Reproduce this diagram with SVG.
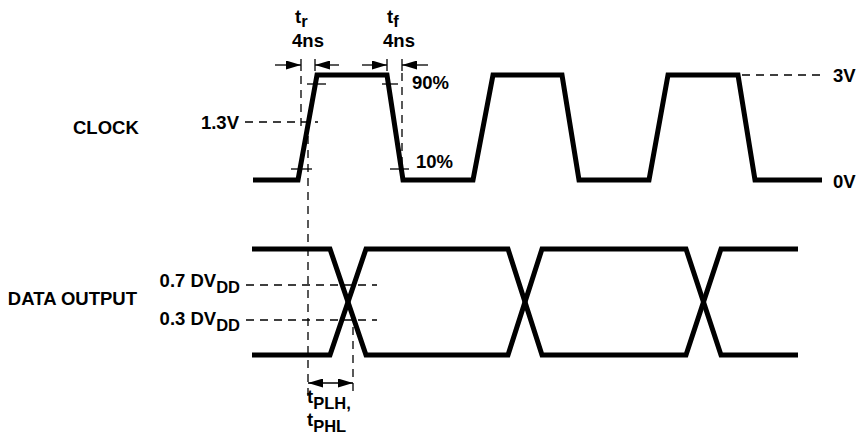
<svg xmlns="http://www.w3.org/2000/svg" width="859" height="442" viewBox="0 0 859 442">
<style>
.wave{fill:none;stroke:#000;stroke-width:5;stroke-linejoin:miter;stroke-miterlimit:10}
.dash{fill:none;stroke:#000;stroke-width:1.3;stroke-dasharray:8 6}
.thin{fill:none;stroke:#000;stroke-width:1.3}
text{font-family:"Liberation Sans",Arial,Helvetica,sans-serif;font-weight:bold;font-size:18.5px;fill:#000}
.sub{font-size:16.5px}
</style>
<defs>
<marker id="ah" viewBox="0 0 15 9" refX="15" refY="4.5" markerWidth="15" markerHeight="9" orient="auto-start-reverse" markerUnits="userSpaceOnUse">
<path d="M0,0 L15,4.5 L0,9 z" fill="#000"/>
</marker>
</defs>
<rect width="859" height="442" fill="#fff"/>

<g id="clock">
<path class="wave" d="M253,180 L298,180 L317,75 L387,75 L403,180 L473,180 L493,75 L562,75 L579,180 L649,180 L668,75 L738,75 L755,180 L822,180"/>
<text x="73" y="134">CLOCK</text>
</g>

<g id="data-output">
<path class="wave" d="M252,249 L330,249 L366,355 L508,355 L542,249 L686,249 L721,355 L798,355"/>
<path class="wave" d="M252,355 L330,355 L366,249 L508,249 L542,355 L686,355 L721,249 L798,249"/>
<text x="137" y="305" text-anchor="end">DATA OUTPUT</text>
</g>

<g id="connectors">
<line class="dash" x1="301" y1="76" x2="301" y2="132"/>
<line class="dash" x1="308" y1="136" x2="308" y2="397"/>
<line class="dash" x1="402" y1="73" x2="402" y2="167"/>
<line class="dash" x1="245" y1="122" x2="318" y2="122"/>
<line class="dash" x1="742" y1="75" x2="826" y2="75"/>
<line class="dash" x1="246" y1="285" x2="377" y2="285"/>
<line class="dash" x1="246" y1="320" x2="377" y2="320"/>
<line class="dash" x1="353" y1="327" x2="353" y2="397"/>
<line class="thin" x1="307" y1="84" x2="326" y2="84"/>
<line class="thin" x1="382" y1="84" x2="398" y2="84"/>
<line class="thin" x1="291" y1="169" x2="312" y2="169"/>
<line class="thin" x1="390" y1="169" x2="409" y2="169"/>
<line class="thin" x1="301" y1="59" x2="301" y2="71"/>
<line class="thin" x1="315" y1="59" x2="315" y2="71"/>
<line class="thin" x1="387" y1="59" x2="387" y2="71"/>
<line class="thin" x1="402" y1="59" x2="402" y2="71"/>
<line class="thin" x1="275" y1="65" x2="301" y2="65" marker-end="url(#ah)"/>
<line class="thin" x1="339" y1="65" x2="315" y2="65" marker-end="url(#ah)"/>
<line class="thin" x1="362" y1="65" x2="387" y2="65" marker-end="url(#ah)"/>
<line class="thin" x1="428" y1="65" x2="402" y2="65" marker-end="url(#ah)"/>
<line class="thin" x1="308" y1="383" x2="353" y2="383" marker-start="url(#ah)" marker-end="url(#ah)"/>
</g>

<g id="labels">
<text x="239" y="129" text-anchor="end">1.3V</text>
<text x="412" y="89">90%</text>
<text x="416" y="168">10%</text>
<text x="833" y="82">3V</text>
<text x="833" y="188">0V</text>
<text x="295" y="23">t<tspan class="sub" dy="4">r</tspan></text>
<text x="308" y="47" text-anchor="middle">4ns</text>
<text x="387" y="23">t<tspan class="sub" dy="4">f</tspan></text>
<text x="399" y="47" text-anchor="middle">4ns</text>
<text x="240" y="287" text-anchor="end">0.7 DV<tspan class="sub" dy="6">DD</tspan></text>
<text x="240" y="325" text-anchor="end">0.3 DV<tspan class="sub" dy="6">DD</tspan></text>
<text x="307" y="403">t<tspan class="sub" dy="6">PLH,</tspan></text>
<text x="307" y="426">t<tspan class="sub" dy="6">PHL</tspan></text>
</g>
</svg>
